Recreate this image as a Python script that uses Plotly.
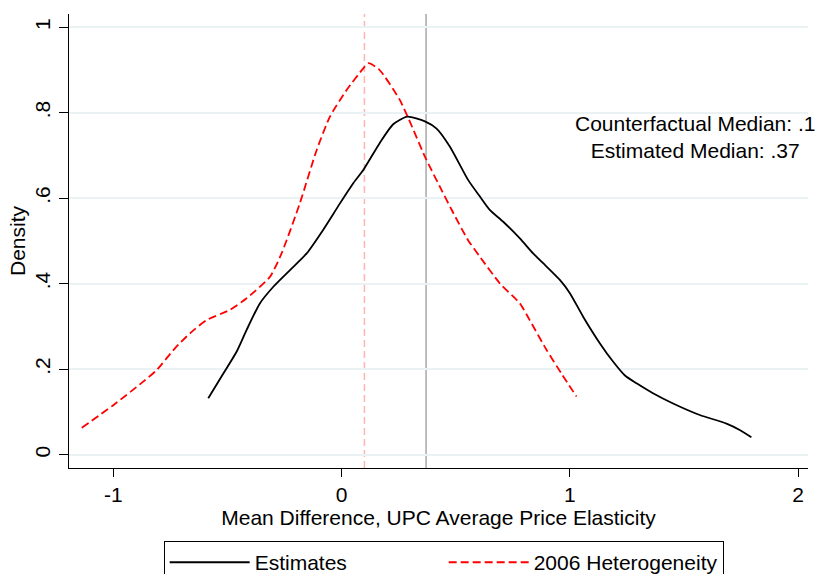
import plotly.graph_objects as go

# Estimates (kernel density)
est_x = [-0.584, -0.518, -0.460, -0.416, -0.358, -0.299, -0.226, -0.153, -0.081, -0.007,
         0.051, 0.095, 0.168, 0.226, 0.288, 0.365, 0.416, 0.474, 0.554, 0.606, 0.649,
         0.708, 0.781, 0.839, 0.883, 0.956, 1.000, 1.058, 1.131, 1.189, 1.240, 1.292,
         1.364, 1.452, 1.569, 1.686, 1.744, 1.795]
est_y = [0.132, 0.190, 0.241, 0.292, 0.354, 0.393, 0.432, 0.471, 0.526, 0.588,
         0.635, 0.666, 0.730, 0.773, 0.791, 0.780, 0.763, 0.721, 0.643, 0.604, 0.573,
         0.545, 0.506, 0.471, 0.448, 0.409, 0.378, 0.323, 0.261, 0.218, 0.186, 0.167,
         0.144, 0.120, 0.093, 0.073, 0.058, 0.041]

# 2006 Heterogeneity (kernel density)
het_x = [-1.138, -1.000, -0.869, -0.810, -0.730, -0.664, -0.591, -0.489, -0.416, -0.314,
         -0.263, -0.183, -0.109, -0.051, 0.022, 0.095, 0.117, 0.163, 0.255, 0.368,
         0.438, 0.482, 0.554, 0.606, 0.693, 0.781, 0.824, 0.898, 0.963, 1.029]
het_y = [0.063, 0.116, 0.171, 0.198, 0.249, 0.284, 0.315, 0.339, 0.366, 0.416,
         0.471, 0.588, 0.713, 0.791, 0.853, 0.904, 0.916, 0.902, 0.830, 0.694,
         0.619, 0.573, 0.502, 0.463, 0.401, 0.354, 0.315, 0.245, 0.190, 0.136]

counterfactual_median = 0.1
estimated_median = 0.37

x_ticks = [-1, 0, 1, 2]
x_ticklabels = ["-1", "0", "1", "2"]
y_ticks = [0, 0.2, 0.4, 0.6, 0.8, 1.0]
y_ticklabels = ["0", ".2", ".4", ".6", ".8", "1"]

note_text = "Counterfactual Median: .1<br>Estimated Median: .37"
note_x = 1.55
note_y = 0.743

FONT = "Liberation Sans, Arial, Helvetica, sans-serif"
FS = 21

fig = go.Figure()
fig.add_trace(go.Scatter(x=est_x, y=est_y, mode="lines", name="Estimates",
                         line=dict(color="black", width=1.8, shape="spline", smoothing=0.6)))
fig.add_trace(go.Scatter(x=het_x, y=het_y, mode="lines", name="2006 Heterogeneity",
                         line=dict(color="#ff0000", width=1.8, dash="8px,4px",
                                   shape="spline", smoothing=0.6)))

fig.add_shape(type="line", xref="x", yref="paper", x0=counterfactual_median, x1=counterfactual_median,
              y0=0, y1=1, line=dict(color="#ffb3b3", width=1.5, dash="7px,4px"), layer="below")
fig.add_shape(type="line", xref="x", yref="paper", x0=estimated_median, x1=estimated_median,
              y0=0, y1=1, line=dict(color="#a8a8a8", width=1.5), layer="below")

fig.add_annotation(x=note_x, y=note_y, xref="x", yref="y", text=note_text,
                   showarrow=False, align="center", xanchor="center", yanchor="middle",
                   font=dict(family=FONT, size=FS, color="black"))

fig.update_layout(
    width=817, height=574,
    margin=dict(l=69, r=9, t=14, b=106, autoexpand=False),
    paper_bgcolor="white", plot_bgcolor="white",
    font=dict(family=FONT, size=FS, color="black"),
    showlegend=True,
    legend=dict(orientation="h", x=0.507, xanchor="center", y=-0.161, yanchor="top",
                bordercolor="black", borderwidth=1, bgcolor="white",
                entrywidth=184, entrywidthmode="pixels", itemwidth=80,
                font=dict(family=FONT, size=FS, color="black")),
)
fig.update_xaxes(range=[-1.194, 2.043], tickvals=x_ticks, ticktext=x_ticklabels,
                 showgrid=False, zeroline=False, showline=True, linecolor="black", linewidth=1.3,
                 ticks="outside", ticklen=8, tickwidth=1.3, tickcolor="black",
                 title=dict(text="Mean Difference, UPC Average Price Elasticity", standoff=1,
                            font=dict(size=FS)))
fig.update_yaxes(range=[-0.031, 1.031], tickvals=y_ticks, ticktext=y_ticklabels, tickangle=-90,
                 showgrid=True, gridcolor="#eaf2f3", gridwidth=1.5, zeroline=False,
                 showline=True, linecolor="black", linewidth=1.3,
                 ticks="outside", ticklen=9, tickwidth=1.3, tickcolor="black",
                 title=dict(text="Density", standoff=0, font=dict(size=FS)))

fig.write_html("out.html")
